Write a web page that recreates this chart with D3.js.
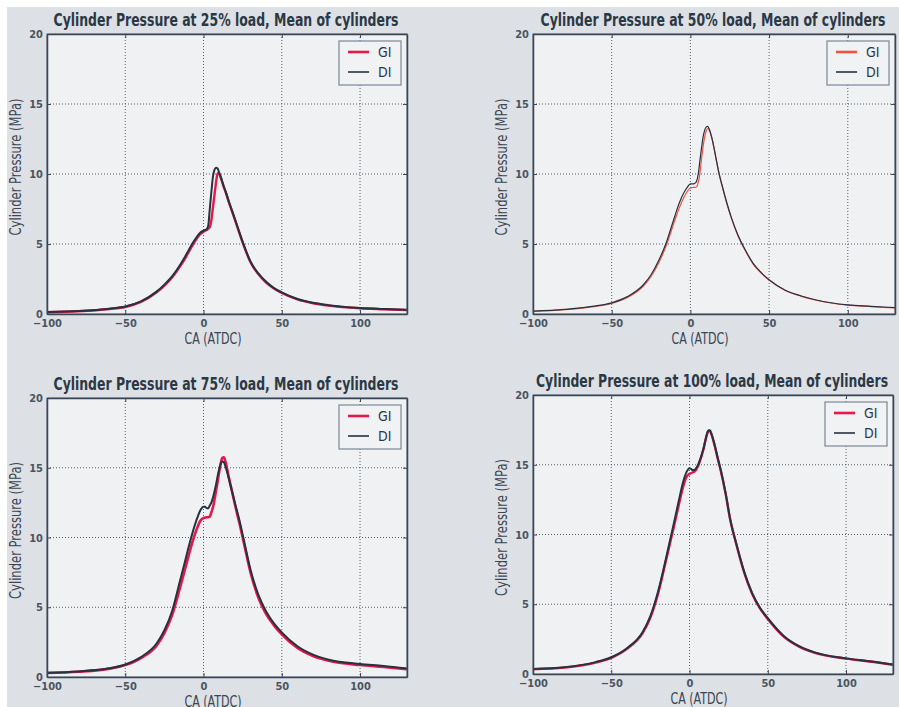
<!DOCTYPE html>
<html>
<head>
<meta charset="utf-8">
<script src="https://cdn.jsdelivr.net/npm/d3@7"></script>
<style>
  body { margin: 0; background: #fff; }
  svg { display: block; }
  .ttl { font-family: "Liberation Sans Narrow", "DejaVu Sans Condensed", "Liberation Sans", sans-serif; font-weight: bold; font-size: 17px; fill: #2b3846; }
  .lab { font-family: "Liberation Sans Narrow", "DejaVu Sans Condensed", "Liberation Sans", sans-serif; font-size: 15px; fill: #3a4654; }
  .tick text { font-family: "Liberation Sans Narrow", "DejaVu Sans Condensed", "Liberation Sans", sans-serif; font-size: 11px; font-weight: bold; fill: #4a5562; }
  .leg { font-family: "Liberation Sans Narrow", "DejaVu Sans Condensed", "Liberation Sans", sans-serif; font-size: 14px; fill: #2b3846; }
</style>
</head>
<body>
<div id="viz"></div>
<script>
// crank angle (deg ATDC) shared by every curve
var crankAngle = [-100, -80, -60, -50, -40, -30, -25, -20, -15, -12, -10, -7, -4, -2, 0, 1, 2, 3, 4, 5,
  6, 7, 8, 9, 10, 11, 12, 13, 14, 16, 18, 20, 23, 26, 30, 35, 40, 45, 50, 60, 70, 80, 100, 115, 130];

// cylinder pressure, MPa
var gi25 = [0.13, 0.2, 0.36, 0.5, 0.86, 1.55, 2.03, 2.62, 3.4, 3.92, 4.32, 4.92, 5.45, 5.72, 5.88, 5.95, 6.0, 6.1, 6.2, 6.7,
  7.6, 8.5, 9.4, 10.05, 10.0, 9.75, 9.4, 9.05, 8.75, 8.05, 7.4, 6.75, 5.75, 4.8, 3.7, 2.85, 2.25, 1.82, 1.5, 1.04, 0.77, 0.6, 0.41, 0.34, 0.28];
var di25 = [0.15, 0.22, 0.38, 0.53, 0.9, 1.6, 2.1, 2.7, 3.5, 4.05, 4.45, 5.05, 5.55, 5.82, 5.95, 6.0, 6.05, 6.3, 7.5, 8.7,
  9.8, 10.3, 10.45, 10.4, 10.1, 9.8, 9.45, 9.1, 8.8, 8.1, 7.45, 6.8, 5.8, 4.85, 3.75, 2.9, 2.3, 1.85, 1.55, 1.07, 0.8, 0.63, 0.43, 0.36, 0.3];

var gi50 = [0.18, 0.31, 0.55, 0.76, 1.18, 1.98, 2.68, 3.68, 4.98, 5.98, 6.65, 7.6, 8.35, 8.75, 9.0, 9.03, 9.05, 9.05, 9.1, 9.4,
  10.0, 11.0, 11.9, 12.6, 13.05, 13.25, 13.15, 12.85, 12.4, 11.25, 10.1, 9.2, 7.95, 6.85, 5.65, 4.5, 3.55, 2.92, 2.42, 1.7, 1.28, 0.98, 0.63, 0.53, 0.43];
var di50 = [0.2, 0.33, 0.58, 0.8, 1.24, 2.07, 2.8, 3.85, 5.2, 6.25, 6.95, 7.95, 8.7, 9.05, 9.3, 9.3, 9.3, 9.35, 9.5, 10.0,
  10.9, 11.8, 12.6, 13.1, 13.35, 13.4, 13.2, 12.85, 12.4, 11.3, 10.15, 9.25, 8.0, 6.9, 5.7, 4.55, 3.6, 2.95, 2.45, 1.72, 1.3, 1.0, 0.65, 0.55, 0.45];

var gi75 = [0.29, 0.38, 0.6, 0.86, 1.36, 2.25, 3.15, 4.45, 6.4, 7.65, 8.5, 9.7, 10.7, 11.2, 11.4, 11.42, 11.45, 11.45, 11.5, 11.8,
  12.15, 12.7, 13.35, 14.0, 14.7, 15.3, 15.7, 15.75, 15.45, 14.4, 13.4, 12.4, 11.0, 9.5, 7.5, 5.7, 4.5, 3.7, 3.05, 2.08, 1.5, 1.16, 0.86, 0.72, 0.56];
var di75 = [0.31, 0.4, 0.62, 0.9, 1.43, 2.4, 3.35, 4.75, 6.9, 8.2, 9.1, 10.35, 11.4, 11.95, 12.2, 12.2, 12.1, 12.1, 12.3, 12.5,
  12.85, 13.3, 13.8, 14.4, 14.9, 15.3, 15.45, 15.4, 15.1, 14.3, 13.4, 12.5, 11.2, 9.7, 7.7, 5.9, 4.7, 3.85, 3.2, 2.2, 1.6, 1.24, 0.93, 0.79, 0.6];

var gi100 = [0.34, 0.46, 0.82, 1.16, 1.8, 2.93, 4.05, 5.8, 8.15, 9.6, 10.55, 12.05, 13.45, 14.1, 14.35, 14.4, 14.45, 14.5, 14.6, 14.8,
  15.05, 15.4, 15.75, 16.15, 16.65, 17.1, 17.4, 17.45, 17.2, 16.4, 15.45, 14.55, 12.95, 11.05, 9.25, 7.25, 5.75, 4.7, 3.95, 2.7, 1.96, 1.52, 1.1, 0.9, 0.66];
var di100 = [0.36, 0.48, 0.85, 1.2, 1.85, 3.0, 4.15, 5.95, 8.3, 9.8, 10.8, 12.35, 13.8, 14.45, 14.75, 14.7, 14.62, 14.62, 14.72, 14.9,
  15.15, 15.45, 15.8, 16.2, 16.7, 17.15, 17.45, 17.45, 17.2, 16.45, 15.5, 14.6, 13.0, 11.1, 9.3, 7.3, 5.8, 4.75, 4.0, 2.75, 2.0, 1.55, 1.12, 0.92, 0.68];

var loadLabels = ["25%", "50%", "75%", "100%"];
var seriesNames = ["GI", "DI"];
var xTicks = [-100, -50, 0, 50, 100];
var yTicks = [0, 5, 10, 15, 20];

var w = 899, h = 707;
// plot boxes of the four panels
var boxes = [
  { l: 47, t: 34, r: 407, b: 314 },
  { l: 533, t: 34, r: 895, b: 314 },
  { l: 47, t: 398, r: 407, b: 677 },
  { l: 533, t: 395, r: 893, b: 674 }
];
var panelData = [[gi25, di25], [gi50, di50], [gi75, di75], [gi100, di100]];
var redCol = ["#e6174b", "#ef5440", "#e6174b", "#e6174b"];
var darkCol = "#27323f";
var redW = [2.4, 1.2, 2.6, 2.4];
var darkW = [2.0, 1.2, 2.0, 2.0];

var svg = d3.select("div#viz")
  .append("svg")
  .attr("width", w)
  .attr("height", h);

svg.append("rect")
  .attr("x", 7).attr("y", 7)
  .attr("width", w - 7).attr("height", h - 7)
  .attr("fill", "#dde0e4");

boxes.forEach(function(bx, i) {
  var x = d3.scaleLinear().domain([-100, 130]).range([bx.l, bx.r]);
  var y = d3.scaleLinear().domain([0, 20]).range([bx.b, bx.t]);
  var g = svg.append("g");

  g.append("rect")
    .attr("x", bx.l).attr("y", bx.t)
    .attr("width", bx.r - bx.l).attr("height", bx.b - bx.t)
    .attr("fill", "#eff1f3");

  // dotted grid
  g.selectAll(".gx").data(xTicks.slice(1)).enter().append("line")
    .attr("x1", function(d) { return x(d); }).attr("x2", function(d) { return x(d); })
    .attr("y1", bx.t).attr("y2", bx.b)
    .attr("stroke", "#55606c").attr("stroke-width", 1).attr("stroke-dasharray", "1,2");
  g.selectAll(".gy").data(yTicks.slice(1, 4)).enter().append("line")
    .attr("y1", function(d) { return y(d); }).attr("y2", function(d) { return y(d); })
    .attr("x1", bx.l).attr("x2", bx.r)
    .attr("stroke", "#55606c").attr("stroke-width", 1).attr("stroke-dasharray", "1,2");

  // curves
  var clipId = "clip" + i;
  g.append("clipPath").attr("id", clipId).append("rect")
    .attr("x", bx.l).attr("y", bx.t)
    .attr("width", bx.r - bx.l).attr("height", bx.b - bx.t);

  var plotLine = d3.line()
    .curve(d3.curveMonotoneX)
    .x(function(d) { return x(d[0]); })
    .y(function(d) { return y(d[1]); });

  panelData[i].forEach(function(vals, s) {
    var pts = crankAngle.map(function(a, k) { return [a, vals[k]]; });
    g.append("path")
      .datum(pts)
      .attr("clip-path", "url(#" + clipId + ")")
      .attr("fill", "none")
      .attr("stroke", s == 0 ? redCol[i] : darkCol)
      .attr("stroke-width", s == 0 ? redW[i] : darkW[i])
      .attr("stroke-linejoin", "round")
      .attr("d", plotLine);
  });

  // frame
  g.append("rect")
    .attr("x", bx.l).attr("y", bx.t)
    .attr("width", bx.r - bx.l).attr("height", bx.b - bx.t)
    .attr("fill", "none").attr("stroke", "#5b6673").attr("stroke-width", 1);

  // axes, ticks point inward
  var xAxis = d3.axisBottom(x).tickValues(xTicks).tickSizeInner(-4).tickSizeOuter(0).tickPadding(5);
  var yAxis = d3.axisLeft(y).tickValues(yTicks).tickSizeInner(-4).tickSizeOuter(0).tickPadding(4);
  g.append("g").attr("transform", "translate(0," + bx.b + ")").call(xAxis);
  g.append("g").attr("transform", "translate(" + bx.l + ",0)").call(yAxis);
  g.append("g").attr("transform", "translate(0," + bx.t + ")")
    .call(d3.axisTop(x).tickValues(xTicks).tickSizeInner(-4).tickSizeOuter(0).tickFormat(""));
  g.append("g").attr("transform", "translate(" + bx.r + ",0)")
    .call(d3.axisRight(y).tickValues(yTicks).tickSizeInner(-4).tickSizeOuter(0).tickFormat(""));
  g.selectAll(".domain").attr("stroke", "#3a4655").attr("stroke-width", 1.5);
  g.selectAll(".tick line").attr("stroke", "#3a4655");

  // texts
  var cx = (bx.l + bx.r) / 2;
  var title = "Cylinder Pressure at " + loadLabels[i] + " load, Mean of cylinders";
  g.append("text").attr("class", "ttl")
    .attr("x", cx - 1).attr("y", bx.t - 8)
    .attr("text-anchor", "middle")
    .attr("textLength", i == 3 ? 352 : 345).attr("lengthAdjust", "spacingAndGlyphs")
    .text(title);

  g.append("text").attr("class", "lab")
    .attr("x", cx - 14).attr("y", bx.b + 30)
    .attr("text-anchor", "middle")
    .attr("textLength", 57).attr("lengthAdjust", "spacingAndGlyphs")
    .text("CA (ATDC)");

  g.append("text").attr("class", "lab")
    .attr("transform", "translate(" + (bx.l - 26) + "," + ((bx.t + bx.b) / 2 - 7) + ")rotate(-90)")
    .attr("text-anchor", "middle")
    .attr("textLength", 137).attr("lengthAdjust", "spacingAndGlyphs")
    .text("Cylinder Pressure (MPa)");

  // legend
  var lg = g.append("g").attr("transform", "translate(" + (bx.r - 68) + "," + (bx.t + 7) + ")");
  lg.append("rect")
    .attr("width", 62).attr("height", 44)
    .attr("fill", "#f1f2f4").attr("stroke", "#7d8894").attr("stroke-width", 1.2);
  seriesNames.forEach(function(n, s) {
    lg.append("line")
      .attr("x1", 9).attr("x2", 30)
      .attr("y1", 11 + s * 20).attr("y2", 11 + s * 20)
      .attr("stroke", s == 0 ? redCol[i] : darkCol)
      .attr("stroke-width", s == 0 ? 2.6 : 1.6);
    lg.append("text").attr("class", "leg")
      .attr("x", 39).attr("y", 16 + s * 20)
      .text(n);
  });
});
</script>
</body>
</html>
